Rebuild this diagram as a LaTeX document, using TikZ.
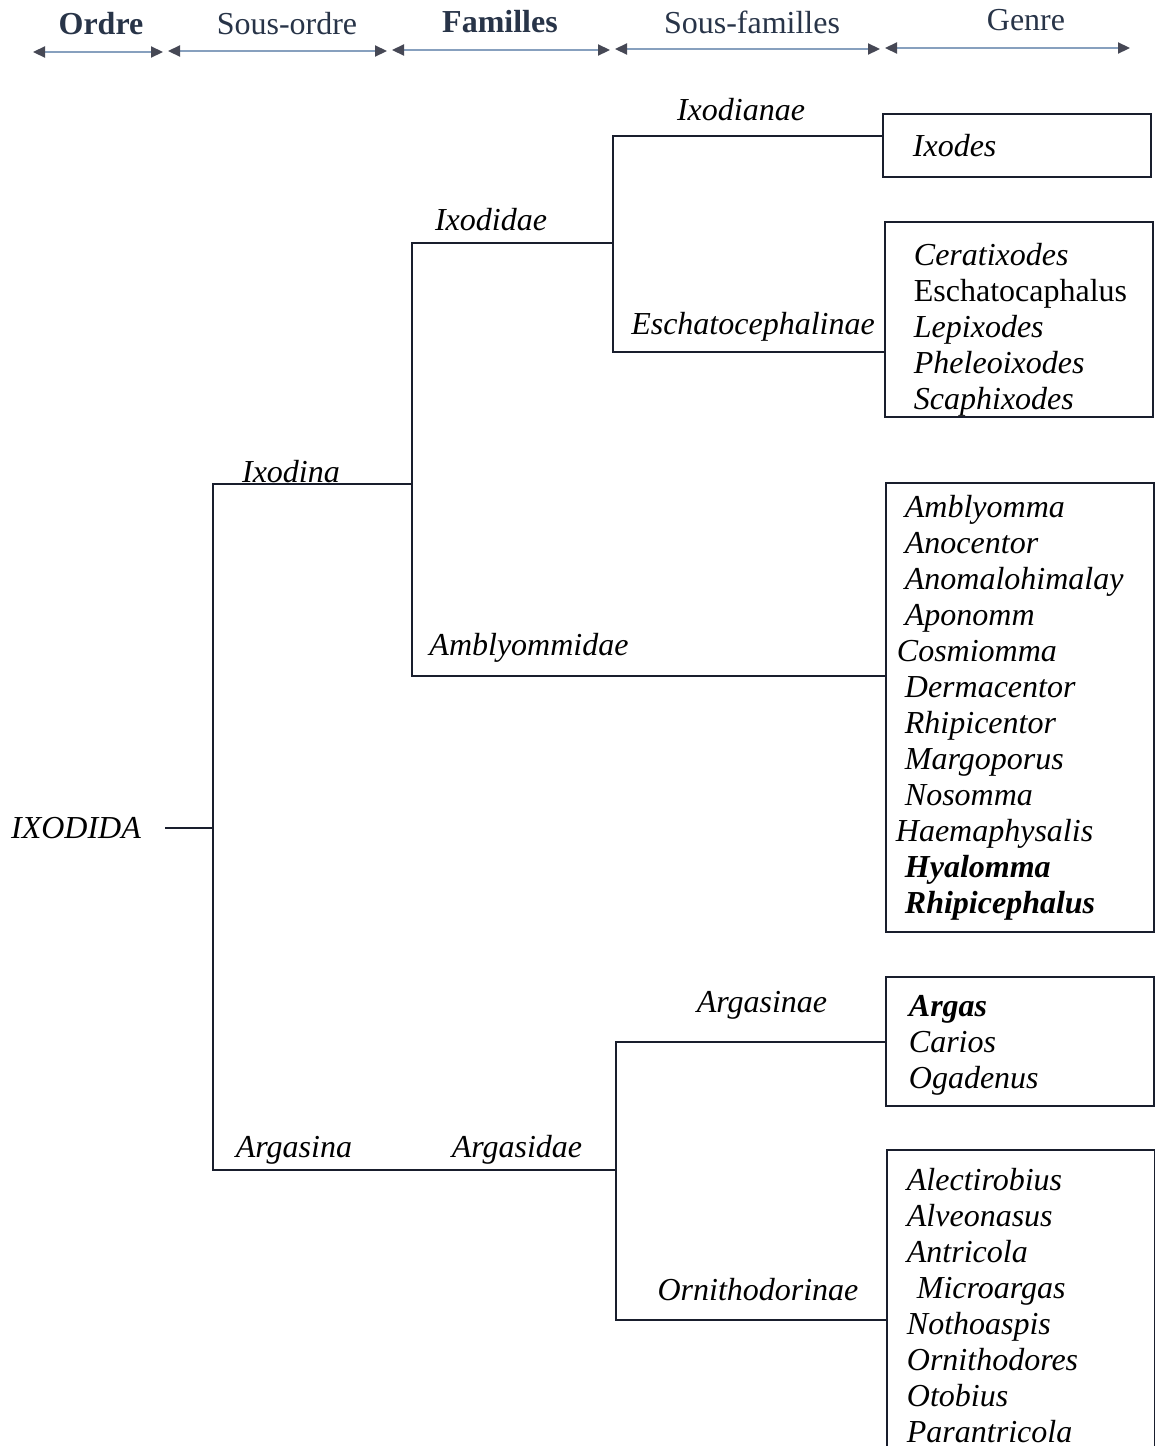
\documentclass[tikz,border=0pt]{standalone}
\usepackage{fontspec}
\setmainfont{Liberation Serif}
\usepackage{tikz}
\usetikzlibrary{arrows.meta}
\definecolor{hdtext}{RGB}{40,52,72}
\definecolor{hdline}{RGB}{135,160,190}
\definecolor{hdtip}{RGB}{70,72,85}
\definecolor{treeline}{RGB}{25,30,45}

\begin{document}
\begin{tikzpicture}[x=0.5pt,y=-0.5pt]
	\tikzstyle{every node}+=[inner sep=0pt, font=\fontsize{16}{18}\selectfont\itshape]
	\tikzstyle{hdlabel}=[text=hdtext, font=\fontsize{16}{18}\selectfont]
	\tikzstyle{hdarrow}=[hdline, line width=1.1pt, {Triangle[length=6pt,width=5.5pt,color=hdtip]}-{Triangle[length=6pt,width=5.5pt,color=hdtip]}]
	\tikzstyle{branch}=[treeline, line width=0.9pt]
	\tikzstyle{genbox}=[draw=treeline, line width=0.9pt, anchor=north west, inner xsep=5pt, inner ysep=4pt, text width=124pt, align=left]
	\useasboundingbox (0,0) rectangle (1155,1446);
	\node[hdlabel, font=\fontsize{16}{18}\selectfont\bfseries] (hOrdre) at (101,24) {Ordre};
	\node[hdlabel] (hSousOrdre) at (287,24) {Sous-ordre};
	\node[hdlabel, font=\fontsize{16}{18}\selectfont\bfseries] (hFamilles) at (500,22) {Familles};
	\node[hdlabel] (hSousFamilles) at (752,22) {Sous-familles};
	\node[hdlabel] (hGenre) at (1026,20) {Genre};
	\foreach \xa/\xb/\ya in {33/163/52, 168/387/51, 392/610/50, 615/880/49, 885/1130/48}
		\draw[hdarrow] (\xa,\ya) -- (\xb,\ya);
	\node (ixodida) at (76,828) {IXODIDA};
	\coordinate (jRoot) at (213,828);
	\coordinate (jIxodina) at (213,484);
	\coordinate (jArgasina) at (213,1170);
	\coordinate (kIxodina) at (412,484);
	\coordinate (kIxodidae) at (412,243);
	\coordinate (kAmbly) at (412,676);
	\coordinate (mIxodidae) at (613,243);
	\coordinate (mIxodianae) at (613,136);
	\coordinate (mEscha) at (613,352);
	\coordinate (kArgasidae) at (616,1170);
	\coordinate (mArgasinae) at (616,1042);
	\coordinate (mOrnitho) at (616,1320);
	\node (lIxodina) at (291,472) {Ixodina};
	\node (lArgasina) at (294,1150) {Argasina};
	\node (lIxodidae) at (491,220) {Ixodidae};
	\node (lAmbly) at (529,648) {Amblyommidae};
	\node (lArgasidae) at (517,1150) {Argasidae};
	\node (lIxodianae) at (741,110) {Ixodianae};
	\node (lEscha) at (753,327) {Eschatocephalinae};
	\node (lArgasinae) at (762,1005) {Argasinae};
	\node (lOrnitho) at (758,1290) {Ornithodorinae};
	\node[genbox, minimum height=31.5pt] (bIxodes) at (882,113) {\hspace*{10pt}Ixodes};
	\node[genbox, inner ysep=0pt, minimum height=97.5pt] (bEscha) at (884,221) {\rule{0pt}{21.5pt}\hspace*{9.5pt}Ceratixodes\\
		\hspace*{9.5pt}{\upshape Eschatocaphalus}\\
		\hspace*{9.5pt}Lepixodes\\
		\hspace*{9.5pt}Pheleoixodes\\
		\hspace*{9.5pt}Scaphixodes};
	\node[genbox, minimum height=224.5pt] (bAmbly) at (885,482) {\hspace*{4.5pt}Amblyomma\\
		\hspace*{4.5pt}Anocentor\\
		\hspace*{4.5pt}Anomalohimalay\\
		\hspace*{4.5pt}Aponomm\\
		\hspace*{0.5pt}Cosmiomma\\
		\hspace*{4.5pt}Dermacentor\\
		\hspace*{4.5pt}Rhipicentor\\
		\hspace*{4.5pt}Margoporus\\
		\hspace*{4.5pt}Nosomma\\
		Haemaphysalis\\
		\hspace*{4.5pt}\textbf{Hyalomma}\\
		\hspace*{4.5pt}\textbf{Rhipicephalus}};
	\node[genbox, minimum height=64.5pt] (bArgas) at (885,976) {\rule{0pt}{14pt}\hspace*{6.5pt}\textbf{Argas}\\
		\hspace*{6.5pt}Carios\\
		\hspace*{6.5pt}Ogadenus};
	\begin{scope}
		\clip (0,0) rectangle (1155,1446);
		\node[genbox, inner ysep=9pt] (bOrnitho) at (886,1149) {\hspace*{5pt}Alectirobius\\
			\hspace*{5pt}Alveonasus\\
			\hspace*{5pt}Antricola\\
			\hspace*{10pt}Microargas\\
			\hspace*{5pt}Nothoaspis\\
			\hspace*{5pt}Ornithodores\\
			\hspace*{5pt}Otobius\\
			\hspace*{5pt}Parantricola};
	\end{scope}
	\draw[branch] ([xshift=12pt]ixodida.east) -- (jRoot);
	\draw[branch] (kIxodina) -- (jIxodina) -- (jArgasina) -- (kArgasidae);
	\draw[branch] (mIxodidae) -- (kIxodidae) -- (kAmbly) -- (kAmbly -| bAmbly.west);
	\draw[branch] (mIxodianae -| bIxodes.west) -- (mIxodianae) -- (mEscha) -- (mEscha -| bEscha.west);
	\draw[branch] (mArgasinae -| bArgas.west) -- (mArgasinae) -- (mOrnitho) -- (mOrnitho -| bOrnitho.west);
\end{tikzpicture}
\end{document}
